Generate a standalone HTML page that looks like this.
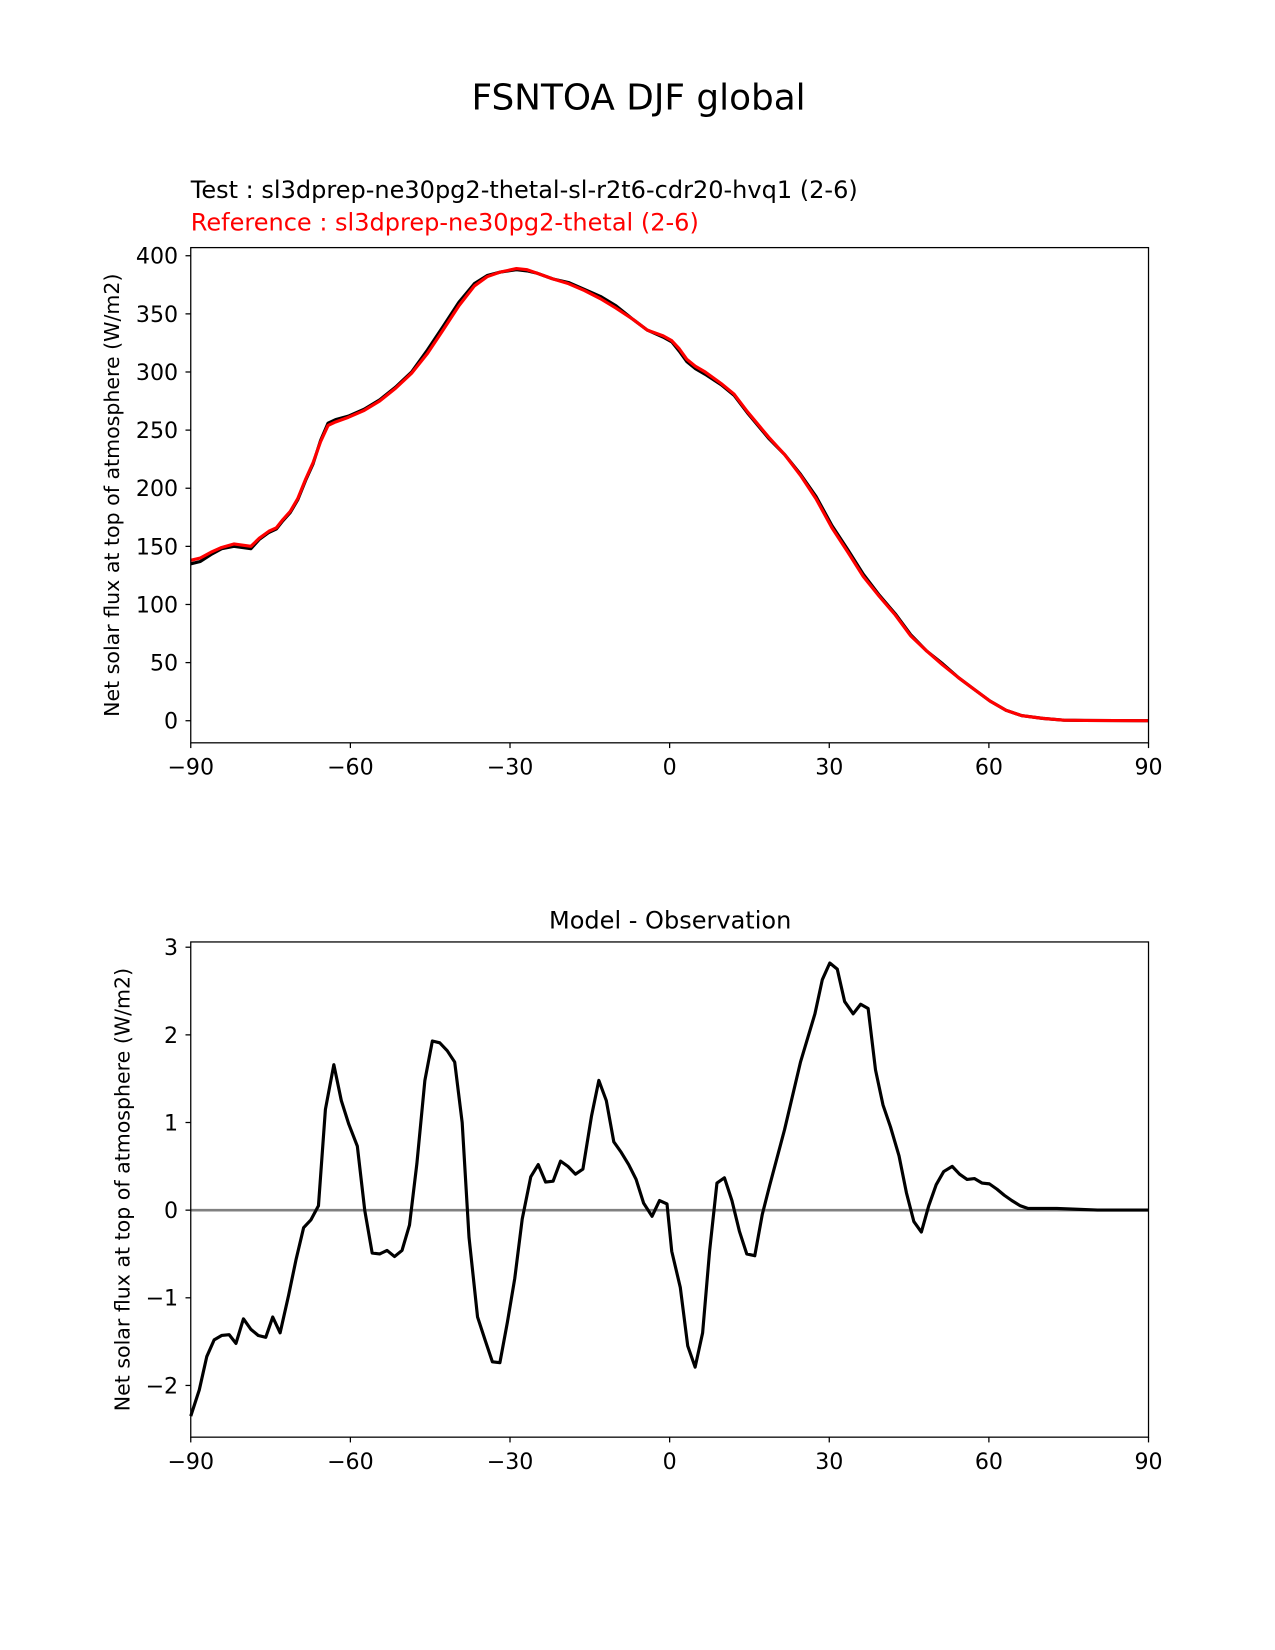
<!DOCTYPE html>
<html><head><meta charset="utf-8"><style>
html,body{margin:0;padding:0;background:#fff;}
svg{display:block;font-family:"DejaVu Sans","Liberation Sans",sans-serif;}
</style></head><body>
<svg id="fig" width="1275" height="1650" viewBox="0 0 1210 1566" xmlns="http://www.w3.org/2000/svg">
<rect width="1210" height="1566" fill="#fff"/>
<text x="606" y="104" font-size="34" text-anchor="middle">FSNTOA DJF global</text>
<text x="181" y="188" font-size="22.8">Test : sl3dprep-ne30pg2-thetal-sl-r2t6-cdr20-hvq1 (2-6)</text>
<text x="181" y="219" font-size="22.8" fill="#ff0000">Reference : sl3dprep-ne30pg2-thetal (2-6)</text>
<text x="636" y="881" font-size="22.8" text-anchor="middle">Model - Observation</text>
<g id="p1"></g>
<g id="p2"></g>
</svg>
<script>
const lats1 = [-90,-88.2,-86.2,-84.2,-81.9,-78.7,-77.1,-75.3,-73.9,-72.7,-71.3,-69.9,-68.4,-67,-65.6,-64.2,-62.8,-60.4,-57.4,-54.5,-51.5,-48.5,-45.5,-42.6,-39.6,-36.7,-34.3,-31.8,-28.8,-26.8,-24.9,-21.9,-19,-16,-13,-10.1,-7.1,-4.2,-1.2,0.4,1.8,3.2,4.8,6.7,9.7,12.1,14.6,18.6,21.6,24.6,27.5,30.5,33.5,36.4,39.4,42.4,45.3,48.3,51.3,54.3,57.2,60.2,63.2,66.1,70.1,74.1,78,90];
const testVals = [135,137,143,148,150,148,156,162,165,172,179,190,207,221,241,256,259,262,268,276,287,300,319,339,360,376,383,386,388,387,385,380,377,371,365,357,346,336,330,326,318,309,303,298,289,280,265,243,229,212,193,168,147,126,108,92,74,60,49,37,27,17,9,4.5,2,0.5,0.2,0];
const refVals  = [138,140,145,149,152,150,157,163,166,173,180,191,208,222,240,254,257,261,267,275,286,299,316,336,357,374,382,386,389,388,385,380,376,370,363,355,346,336,331,327,320,311,305,300,290,281,266,244,229,211,191,166,145,124,107,91,73,60,48,37,27,17,9,4.5,2,0.5,0.2,0];
const lats2 = [-90,-88.4,-87,-85.6,-84.2,-82.8,-81.5,-80.1,-78.7,-77.3,-75.9,-74.6,-73.2,-71.6,-70.2,-68.8,-67.4,-66,-64.7,-63.1,-61.7,-60.3,-58.7,-57.3,-55.9,-54.5,-53.1,-51.7,-50.3,-48.9,-47.5,-46,-44.6,-43.2,-41.8,-40.4,-39,-37.7,-36.1,-34.7,-33.3,-31.9,-30.5,-29.1,-27.7,-26.1,-24.7,-23.3,-21.9,-20.5,-19.1,-17.7,-16.3,-14.7,-13.3,-11.9,-10.5,-9.1,-7.7,-6.3,-4.9,-3.3,-1.9,-0.5,0.4,2,3.4,4.8,6.2,7.5,8.9,10.3,11.7,13.1,14.5,16,17.4,18.8,21.6,24.6,27.3,28.7,30.1,31.5,32.9,34.5,35.9,37.3,38.7,40.1,41.5,43.1,44.5,45.9,47.3,48.7,50.1,51.5,53.1,54.5,55.9,57.3,58.7,60.1,61.5,62.9,64.3,65.9,67.3,70,72.8,76.4,80.4,90];
const diffVals = [-2.35,-2.05,-1.67,-1.48,-1.43,-1.42,-1.52,-1.24,-1.36,-1.43,-1.45,-1.22,-1.40,-0.97,-0.56,-0.20,-0.11,0.05,1.15,1.66,1.25,0.98,0.73,0.0,-0.49,-0.5,-0.46,-0.53,-0.46,-0.17,0.53,1.48,1.93,1.91,1.82,1.69,1.0,-0.31,-1.22,-1.48,-1.73,-1.74,-1.28,-0.78,-0.1,0.38,0.52,0.32,0.33,0.56,0.5,0.41,0.47,1.07,1.48,1.25,0.78,0.66,0.52,0.35,0.08,-0.07,0.11,0.07,-0.47,-0.88,-1.55,-1.79,-1.4,-0.47,0.31,0.37,0.11,-0.24,-0.5,-0.52,-0.05,0.28,0.92,1.69,2.24,2.63,2.82,2.75,2.38,2.24,2.35,2.3,1.6,1.2,0.95,0.62,0.2,-0.13,-0.25,0.05,0.29,0.44,0.5,0.41,0.35,0.36,0.31,0.3,0.24,0.17,0.11,0.05,0.02,0.02,0.02,0.01,0,0];
const xTicks = [-90,-60,-30,0,30,60,90];
const xTickLabels = ["\u221290","\u221260","\u221230","0","30","60","90"];
const yTicks1 = [0,50,100,150,200,250,300,350,400];
const yTicks2 = [-2,-1,0,1,2,3];
const yTickLabels2 = ["\u22122","\u22121","0","1","2","3"];

const NS="http://www.w3.org/2000/svg";
function mk(parent,tag,attrs){const e=document.createElementNS(NS,tag);for(const k in attrs)e.setAttribute(k,attrs[k]);parent.appendChild(e);return e;}
function panel(g,top,bottom,ymin,ymax,yt,ytl,name,ylx){
  const L=181,R=1090;
  const sx=v=>L+(v+90)/180*(R-L);
  const sy=v=>bottom-(v-ymin)/(ymax-ymin)*(bottom-top);
  xTicks.forEach((t,i)=>{
    const l=mk(g,'line',{x1:sx(t),x2:sx(t),y1:bottom,y2:bottom+5,stroke:'#000','stroke-width':1.2});
    
    
    const tx=mk(g,'text',{x:sx(t),y:bottom+30,'font-size':21,'text-anchor':'middle'});
    
    
    tx.textContent=xTickLabels[i];
  });
  yt.forEach((t,i)=>{
    const l=mk(g,'line',{x1:L-5,x2:L,y1:sy(t),y2:sy(t),stroke:'#000','stroke-width':1.2});
    
    
    const tx=mk(g,'text',{x:L-12,y:sy(t)+7.5,'font-size':21,'text-anchor':'end'});
    
    
    tx.textContent=ytl?ytl[i]:String(t);
  });
  const yl=mk(g,'text',{x:0,y:0,'font-size':19.5,'text-anchor':'middle',transform:`translate(${ylx},${(top+bottom)/2}) rotate(-90)`});
  
  
  yl.textContent='Net solar flux at top of atmosphere (W/m2)';
  return {sx,sy,L,R,top,bottom};
}
function line(g,xs,ys,a,color,w,name){
  const d=xs.map((x,i)=>(i?'L':'M')+a.sx(x).toFixed(1)+','+a.sy(ys[i]).toFixed(1)).join('');
  const p=mk(g,'path',{d:d,fill:'none',stroke:color,'stroke-width':w,'stroke-linejoin':'round'});
  
  
}
function frame(g,a,name){
  const r=mk(g,'rect',{x:a.L,y:a.top,width:a.R-a.L,height:a.bottom-a.top,fill:'none',stroke:'#000','stroke-width':1.2});
  
  
}
const g1=document.getElementById('p1');
const a1=panel(g1,235,705,-19,407,yTicks1,null,'top',113);
line(g1,lats1,testVals,a1,'#000',3,'test-line');
line(g1,lats1,refVals,a1,'#ff0000',3,'reference-line');
frame(g1,a1,'top');
const g2=document.getElementById('p2');
const a2=panel(g2,894,1364,-2.59,3.06,yTicks2,yTickLabels2,'diff',123);
const z=mk(g2,'line',{x1:a2.L,x2:a2.R,y1:a2.sy(0),y2:a2.sy(0),stroke:'#808080','stroke-width':2.5});


line(g2,lats2,diffVals,a2,'#000',3,'difference-line');
frame(g2,a2,'diff');
</script>
</body></html>
